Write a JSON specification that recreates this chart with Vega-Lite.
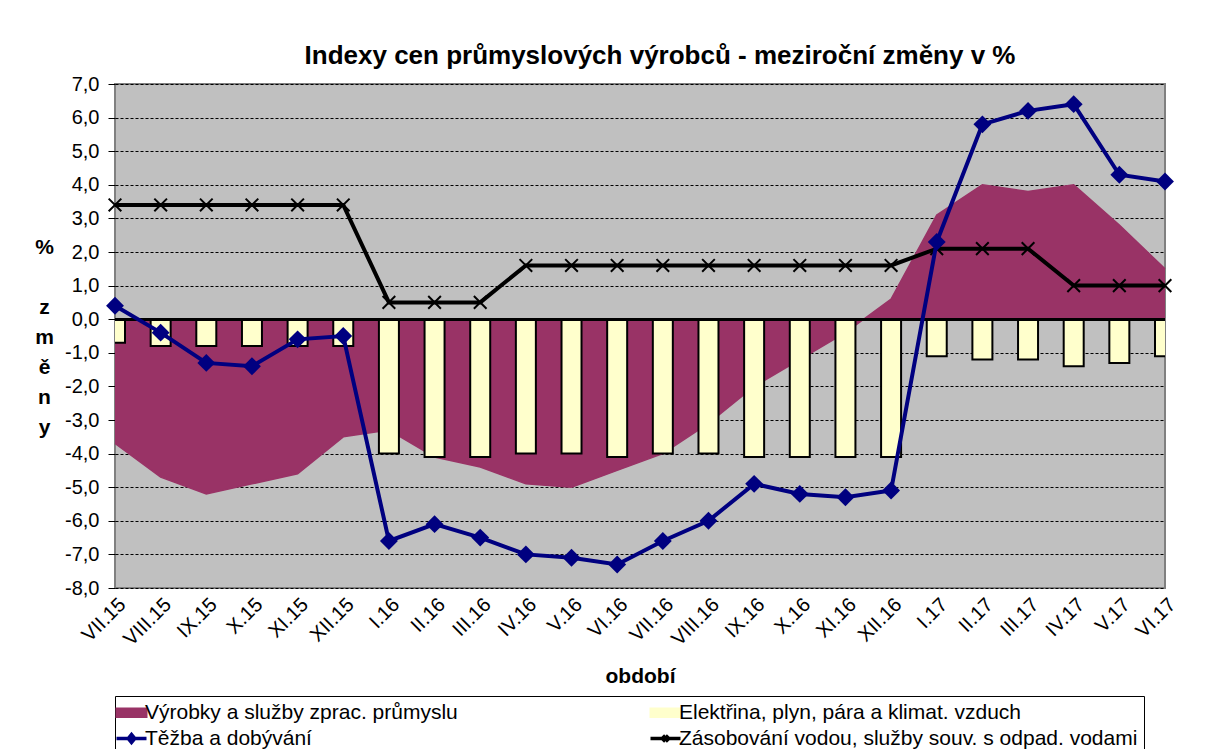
{
  "$schema": "https://vega.github.io/schema/vega-lite/v6.json",
  "width": 1050,
  "height": 504,
  "autosize": {"type": "none"},
  "padding": {"left": 115, "top": 84, "right": 41, "bottom": 161},
  "background": "white",
  "title": {
    "text": "Indexy cen průmyslových výrobců - meziroční změny v %",
    "font": "Liberation Sans",
    "fontSize": 26,
    "fontWeight": "bold",
    "color": "black",
    "anchor": "middle",
    "dx": 20,
    "offset": 5
  },
  "config": {
    "font": "Liberation Sans",
    "view": {"fill": "#C0C0C0", "stroke": "#808080", "strokeWidth": 2}
  },
  "data": {
    "values": [
      {"obdobi": "VII.15", "rada": "Výrobky a služby zprac. průmyslu", "hodnota": -3.7},
      {"obdobi": "VIII.15", "rada": "Výrobky a služby zprac. průmyslu", "hodnota": -4.7},
      {"obdobi": "IX.15", "rada": "Výrobky a služby zprac. průmyslu", "hodnota": -5.2},
      {"obdobi": "X.15", "rada": "Výrobky a služby zprac. průmyslu", "hodnota": -4.9},
      {"obdobi": "XI.15", "rada": "Výrobky a služby zprac. průmyslu", "hodnota": -4.6},
      {"obdobi": "XII.15", "rada": "Výrobky a služby zprac. průmyslu", "hodnota": -3.5},
      {"obdobi": "I.16", "rada": "Výrobky a služby zprac. průmyslu", "hodnota": -3.3},
      {"obdobi": "II.16", "rada": "Výrobky a služby zprac. průmyslu", "hodnota": -4.1},
      {"obdobi": "III.16", "rada": "Výrobky a služby zprac. průmyslu", "hodnota": -4.4},
      {"obdobi": "IV.16", "rada": "Výrobky a služby zprac. průmyslu", "hodnota": -4.9},
      {"obdobi": "V.16", "rada": "Výrobky a služby zprac. průmyslu", "hodnota": -5.0},
      {"obdobi": "VI.16", "rada": "Výrobky a služby zprac. průmyslu", "hodnota": -4.5},
      {"obdobi": "VII.16", "rada": "Výrobky a služby zprac. průmyslu", "hodnota": -4.0},
      {"obdobi": "VIII.16", "rada": "Výrobky a služby zprac. průmyslu", "hodnota": -3.1},
      {"obdobi": "IX.16", "rada": "Výrobky a služby zprac. průmyslu", "hodnota": -2.0},
      {"obdobi": "X.16", "rada": "Výrobky a služby zprac. průmyslu", "hodnota": -1.2},
      {"obdobi": "XI.16", "rada": "Výrobky a služby zprac. průmyslu", "hodnota": -0.4},
      {"obdobi": "XII.16", "rada": "Výrobky a služby zprac. průmyslu", "hodnota": 0.6},
      {"obdobi": "I.17", "rada": "Výrobky a služby zprac. průmyslu", "hodnota": 3.1},
      {"obdobi": "II.17", "rada": "Výrobky a služby zprac. průmyslu", "hodnota": 4.0},
      {"obdobi": "III.17", "rada": "Výrobky a služby zprac. průmyslu", "hodnota": 3.8},
      {"obdobi": "IV.17", "rada": "Výrobky a služby zprac. průmyslu", "hodnota": 4.0},
      {"obdobi": "V.17", "rada": "Výrobky a služby zprac. průmyslu", "hodnota": 2.8},
      {"obdobi": "VI.17", "rada": "Výrobky a služby zprac. průmyslu", "hodnota": 1.5},

      {"obdobi": "VII.15", "rada": "Elektřina, plyn, pára a klimat. vzduch", "hodnota": -0.7},
      {"obdobi": "VIII.15", "rada": "Elektřina, plyn, pára a klimat. vzduch", "hodnota": -0.8},
      {"obdobi": "IX.15", "rada": "Elektřina, plyn, pára a klimat. vzduch", "hodnota": -0.8},
      {"obdobi": "X.15", "rada": "Elektřina, plyn, pára a klimat. vzduch", "hodnota": -0.8},
      {"obdobi": "XI.15", "rada": "Elektřina, plyn, pára a klimat. vzduch", "hodnota": -0.8},
      {"obdobi": "XII.15", "rada": "Elektřina, plyn, pára a klimat. vzduch", "hodnota": -0.8},
      {"obdobi": "I.16", "rada": "Elektřina, plyn, pára a klimat. vzduch", "hodnota": -4.0},
      {"obdobi": "II.16", "rada": "Elektřina, plyn, pára a klimat. vzduch", "hodnota": -4.1},
      {"obdobi": "III.16", "rada": "Elektřina, plyn, pára a klimat. vzduch", "hodnota": -4.1},
      {"obdobi": "IV.16", "rada": "Elektřina, plyn, pára a klimat. vzduch", "hodnota": -4.0},
      {"obdobi": "V.16", "rada": "Elektřina, plyn, pára a klimat. vzduch", "hodnota": -4.0},
      {"obdobi": "VI.16", "rada": "Elektřina, plyn, pára a klimat. vzduch", "hodnota": -4.1},
      {"obdobi": "VII.16", "rada": "Elektřina, plyn, pára a klimat. vzduch", "hodnota": -4.0},
      {"obdobi": "VIII.16", "rada": "Elektřina, plyn, pára a klimat. vzduch", "hodnota": -4.0},
      {"obdobi": "IX.16", "rada": "Elektřina, plyn, pára a klimat. vzduch", "hodnota": -4.1},
      {"obdobi": "X.16", "rada": "Elektřina, plyn, pára a klimat. vzduch", "hodnota": -4.1},
      {"obdobi": "XI.16", "rada": "Elektřina, plyn, pára a klimat. vzduch", "hodnota": -4.1},
      {"obdobi": "XII.16", "rada": "Elektřina, plyn, pára a klimat. vzduch", "hodnota": -4.1},
      {"obdobi": "I.17", "rada": "Elektřina, plyn, pára a klimat. vzduch", "hodnota": -1.1},
      {"obdobi": "II.17", "rada": "Elektřina, plyn, pára a klimat. vzduch", "hodnota": -1.2},
      {"obdobi": "III.17", "rada": "Elektřina, plyn, pára a klimat. vzduch", "hodnota": -1.2},
      {"obdobi": "IV.17", "rada": "Elektřina, plyn, pára a klimat. vzduch", "hodnota": -1.4},
      {"obdobi": "V.17", "rada": "Elektřina, plyn, pára a klimat. vzduch", "hodnota": -1.3},
      {"obdobi": "VI.17", "rada": "Elektřina, plyn, pára a klimat. vzduch", "hodnota": -1.1},

      {"obdobi": "VII.15", "rada": "Těžba a dobývání", "hodnota": 0.4},
      {"obdobi": "VIII.15", "rada": "Těžba a dobývání", "hodnota": -0.4},
      {"obdobi": "IX.15", "rada": "Těžba a dobývání", "hodnota": -1.3},
      {"obdobi": "X.15", "rada": "Těžba a dobývání", "hodnota": -1.4},
      {"obdobi": "XI.15", "rada": "Těžba a dobývání", "hodnota": -0.6},
      {"obdobi": "XII.15", "rada": "Těžba a dobývání", "hodnota": -0.5},
      {"obdobi": "I.16", "rada": "Těžba a dobývání", "hodnota": -6.6},
      {"obdobi": "II.16", "rada": "Těžba a dobývání", "hodnota": -6.1},
      {"obdobi": "III.16", "rada": "Těžba a dobývání", "hodnota": -6.5},
      {"obdobi": "IV.16", "rada": "Těžba a dobývání", "hodnota": -7.0},
      {"obdobi": "V.16", "rada": "Těžba a dobývání", "hodnota": -7.1},
      {"obdobi": "VI.16", "rada": "Těžba a dobývání", "hodnota": -7.3},
      {"obdobi": "VII.16", "rada": "Těžba a dobývání", "hodnota": -6.6},
      {"obdobi": "VIII.16", "rada": "Těžba a dobývání", "hodnota": -6.0},
      {"obdobi": "IX.16", "rada": "Těžba a dobývání", "hodnota": -4.9},
      {"obdobi": "X.16", "rada": "Těžba a dobývání", "hodnota": -5.2},
      {"obdobi": "XI.16", "rada": "Těžba a dobývání", "hodnota": -5.3},
      {"obdobi": "XII.16", "rada": "Těžba a dobývání", "hodnota": -5.1},
      {"obdobi": "I.17", "rada": "Těžba a dobývání", "hodnota": 2.3},
      {"obdobi": "II.17", "rada": "Těžba a dobývání", "hodnota": 5.8},
      {"obdobi": "III.17", "rada": "Těžba a dobývání", "hodnota": 6.2},
      {"obdobi": "IV.17", "rada": "Těžba a dobývání", "hodnota": 6.4},
      {"obdobi": "V.17", "rada": "Těžba a dobývání", "hodnota": 4.3},
      {"obdobi": "VI.17", "rada": "Těžba a dobývání", "hodnota": 4.1},

      {"obdobi": "VII.15", "rada": "Zásobování vodou, služby souv. s odpad. vodami", "hodnota": 3.4},
      {"obdobi": "VIII.15", "rada": "Zásobování vodou, služby souv. s odpad. vodami", "hodnota": 3.4},
      {"obdobi": "IX.15", "rada": "Zásobování vodou, služby souv. s odpad. vodami", "hodnota": 3.4},
      {"obdobi": "X.15", "rada": "Zásobování vodou, služby souv. s odpad. vodami", "hodnota": 3.4},
      {"obdobi": "XI.15", "rada": "Zásobování vodou, služby souv. s odpad. vodami", "hodnota": 3.4},
      {"obdobi": "XII.15", "rada": "Zásobování vodou, služby souv. s odpad. vodami", "hodnota": 3.4},
      {"obdobi": "I.16", "rada": "Zásobování vodou, služby souv. s odpad. vodami", "hodnota": 0.5},
      {"obdobi": "II.16", "rada": "Zásobování vodou, služby souv. s odpad. vodami", "hodnota": 0.5},
      {"obdobi": "III.16", "rada": "Zásobování vodou, služby souv. s odpad. vodami", "hodnota": 0.5},
      {"obdobi": "IV.16", "rada": "Zásobování vodou, služby souv. s odpad. vodami", "hodnota": 1.6},
      {"obdobi": "V.16", "rada": "Zásobování vodou, služby souv. s odpad. vodami", "hodnota": 1.6},
      {"obdobi": "VI.16", "rada": "Zásobování vodou, služby souv. s odpad. vodami", "hodnota": 1.6},
      {"obdobi": "VII.16", "rada": "Zásobování vodou, služby souv. s odpad. vodami", "hodnota": 1.6},
      {"obdobi": "VIII.16", "rada": "Zásobování vodou, služby souv. s odpad. vodami", "hodnota": 1.6},
      {"obdobi": "IX.16", "rada": "Zásobování vodou, služby souv. s odpad. vodami", "hodnota": 1.6},
      {"obdobi": "X.16", "rada": "Zásobování vodou, služby souv. s odpad. vodami", "hodnota": 1.6},
      {"obdobi": "XI.16", "rada": "Zásobování vodou, služby souv. s odpad. vodami", "hodnota": 1.6},
      {"obdobi": "XII.16", "rada": "Zásobování vodou, služby souv. s odpad. vodami", "hodnota": 1.6},
      {"obdobi": "I.17", "rada": "Zásobování vodou, služby souv. s odpad. vodami", "hodnota": 2.1},
      {"obdobi": "II.17", "rada": "Zásobování vodou, služby souv. s odpad. vodami", "hodnota": 2.1},
      {"obdobi": "III.17", "rada": "Zásobování vodou, služby souv. s odpad. vodami", "hodnota": 2.1},
      {"obdobi": "IV.17", "rada": "Zásobování vodou, služby souv. s odpad. vodami", "hodnota": 1.0},
      {"obdobi": "V.17", "rada": "Zásobování vodou, služby souv. s odpad. vodami", "hodnota": 1.0},
      {"obdobi": "VI.17", "rada": "Zásobování vodou, služby souv. s odpad. vodami", "hodnota": 1.0}
    ]
  },
  "encoding": {
    "x": {
      "field": "obdobi",
      "type": "nominal",
      "scale": {
        "type": "point",
        "padding": 0,
        "domain": ["VII.15","VIII.15","IX.15","X.15","XI.15","XII.15","I.16","II.16","III.16","IV.16","V.16","VI.16","VII.16","VIII.16","IX.16","X.16","XI.16","XII.16","I.17","II.17","III.17","IV.17","V.17","VI.17"]
      },
      "axis": {
        "title": "období",
        "titleFont": "Liberation Sans",
        "titleFontSize": 21,
        "titleFontWeight": "bold",
        "titleColor": "black",
        "titlePadding": 16,
        "labelAngle": -45,
        "labelFont": "Liberation Sans",
        "labelFontSize": 20,
        "labelColor": "black",
        "labelPadding": 6,
        "domain": false,
        "ticks": false,
        "grid": false
      }
    },
    "y": {
      "field": "hodnota",
      "type": "quantitative",
      "scale": {"domain": [-8, 7], "nice": false, "zero": false},
      "axis": {
        "values": [-8,-7,-6,-5,-4,-3,-2,-1,0,1,2,3,4,5,6,7],
        "labelExpr": "replace(replace(format(datum.value, '.1f'), '.', ','), '\u2212', '-')",
        "labelFont": "Liberation Sans",
        "labelFontSize": 20,
        "labelColor": "black",
        "labelPadding": 9,
        "domain": false,
        "ticks": true,
        "tickColor": "black",
        "tickSize": 7,
        "grid": true,
        "gridColor": "black",
        "gridDash": [3, 2],
        "gridWidth": 1,
        "gridOpacity": 1,
        "title": ["%", "\u2800", "z", "m", "ě", "n", "y"],
        "titleAngle": 0,
        "titleFont": "Liberation Sans",
        "titleFontSize": 21,
        "titleFontWeight": "bold",
        "titleColor": "black",
        "titleLineHeight": 30,
        "titleAlign": "center",
        "titleBaseline": "middle",
        "titleX": -71,
        "titleY": 163
      }
    },
    "color": {
      "field": "rada",
      "type": "nominal",
      "scale": {
        "domain": ["Výrobky a služby zprac. průmyslu", "Elektřina, plyn, pára a klimat. vzduch", "Těžba a dobývání", "Zásobování vodou, služby souv. s odpad. vodami"],
        "range": ["#993366", "#FFFFCC", "#000080", "#000000"]
      },
      "legend": {
        "title": null,
        "orient": "bottom",
        "direction": "horizontal",
        "columns": 2,
        "offset": 9,
        "labelFont": "Liberation Sans",
        "labelFontSize": 21,
        "labelColor": "black",
        "labelLimit": 700,
        "labelOffset": 3,
        "symbolSize": 900,
        "symbolStrokeColor": "black",
        "symbolStrokeWidth": 2,
        "columnPadding": 185,
        "rowPadding": 4,
        "padding": 6,
        "strokeColor": "black",
        "encode": {
          "symbols": {
            "update": {
              "shape": {"signal": "datum.value === 'Těžba a dobývání' ? 'M-1,0H1M-0.22,0L0,-0.27L0.22,0L0,0.27Z' : datum.value === 'Zásobování vodou, služby souv. s odpad. vodami' ? 'M-1,0H1M-0.18,-0.2L0.18,0.2M-0.18,0.2L0.18,-0.2' : 'M-1,-0.28L1,-0.28L1,0.28L-1,0.28Z'"},
              "fill": {"signal": "datum.value === 'Těžba a dobývání' ? '#000080' : datum.value === 'Zásobování vodou, služby souv. s odpad. vodami' ? 'transparent' : scale('color', datum.value)"},
              "stroke": {"signal": "datum.value === 'Těžba a dobývání' ? '#000080' : '#000000'"},
              "strokeWidth": {"signal": "(datum.value === 'Těžba a dobývání' || datum.value === 'Zásobování vodou, služby souv. s odpad. vodami') ? 3.5 : 2"},
              "opacity": {"value": 1},
              "fillOpacity": {"value": 1},
              "strokeOpacity": {"value": 1}
            }
          }
        }
      }
    }
  },
  "layer": [
    {
      "transform": [{"filter": "datum.rada === 'Výrobky a služby zprac. průmyslu'"}],
      "mark": {"type": "area", "opacity": 1, "line": {"color": "black", "strokeWidth": 1.5}}
    },
    {
      "transform": [{"filter": "datum.rada === 'Elektřina, plyn, pára a klimat. vzduch'"}],
      "mark": {"type": "bar", "width": 20, "stroke": "black", "strokeWidth": 2, "opacity": 1, "clip": true}
    },
    {
      "mark": {"type": "rule", "color": "black", "strokeWidth": 2},
      "encoding": {"y": {"datum": 0}, "x": null, "color": null}
    },
    {
      "transform": [{"filter": "datum.rada === 'Zásobování vodou, služby souv. s odpad. vodami'"}],
      "mark": {"type": "line", "strokeWidth": 4, "point": {"shape": "M-1,-1L1,1M-1,1L1,-1", "filled": false, "size": 160, "strokeWidth": 2}}
    },
    {
      "transform": [{"filter": "datum.rada === 'Těžba a dobývání'"}],
      "mark": {"type": "line", "strokeWidth": 4, "point": {"shape": "diamond", "filled": true, "size": 320}}
    }
  ]
}
